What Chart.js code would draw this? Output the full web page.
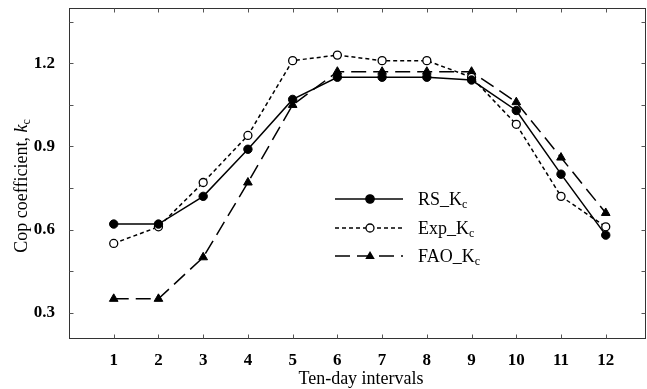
<!DOCTYPE html>
<html><head><meta charset="utf-8">
<script src="https://cdn.jsdelivr.net/npm/chart.js@4"></script>
<style>html,body{margin:0;padding:0;background:#fff}canvas{display:block}</style>
</head><body>
<canvas id="c" width="647" height="389"></canvas>
<script>
const intervals = [1,2,3,4,5,6,7,8,9,10,11,12];
const rsKc  = [0.62,0.62,0.72,0.89,1.07,1.15,1.15,1.15,1.14,1.03,0.80,0.58];
const expKc = [0.55,0.61,0.77,0.94,1.21,1.23,1.21,1.21,1.15,0.98,0.72,0.61];
const faoKc = [0.35,0.35,0.50,0.77,1.05,1.17,1.17,1.17,1.17,1.06,0.86,0.66];
const yTickLabels = [0.3,0.6,0.9,1.2];
const yMinorTicks = [0.3,0.45,0.6,0.75,0.9,1.05,1.2,1.35];
const seriesNames = ['RS_K','Exp_K','FAO_K'];
const seriesSub = ['c','c','c'];
const xTitle = 'Ten-day intervals';
const yTitleMain = 'Cop coefficient, ';
const yTitleItalic = 'k';
const yTitleSub = 'c';

const SERIF = '"Liberation Serif","Times New Roman",serif';
const pts = arr => intervals.map((x,i)=>({x:x,y:arr[i]}));

const dashes = [[], [4,3], [15,7]];
const styles = ['circle','circle','triangle'];
const fills = ['#000','#fff','#000'];
const radii = [4.2,4,5];
const PLOT_RIGHT = 646;

const fixArea = {
  id:'fixArea',
  afterLayout(chart){
    const xs = chart.scales.x;
    xs.right = PLOT_RIGHT; xs.width = PLOT_RIGHT - xs.left; xs.configure();
    chart.chartArea.right = PLOT_RIGHT; chart.chartArea.width = PLOT_RIGHT - chart.chartArea.left;
  }
};

const decor = {
  id:'decor',
  afterDraw(chart){
    const ctx = chart.ctx, a = chart.chartArea;
    const xs = chart.scales.x, ys = chart.scales.y;
    ctx.save();
    ctx.strokeStyle = '#333'; ctx.lineWidth = 1; ctx.setLineDash([]);
    const L = Math.round(a.left)+0.5, R = Math.round(a.right)-0.5, T = Math.round(a.top)+0.5, B = Math.round(a.bottom)-0.5;
    ctx.strokeRect(L, T, R-L, B-T);
    ctx.strokeStyle = '#555';
    ctx.beginPath();
    intervals.forEach(v=>{
      const px = Math.round(xs.getPixelForValue(v))+0.5;
      ctx.moveTo(px,B); ctx.lineTo(px,B-4);
      ctx.moveTo(px,T); ctx.lineTo(px,T+4);
    });
    yMinorTicks.forEach(v=>{
      const py = Math.round(ys.getPixelForValue(v))+0.5;
      ctx.moveTo(L,py); ctx.lineTo(L+4,py);
      ctx.moveTo(R,py); ctx.lineTo(R-4,py);
    });
    ctx.stroke();

    // legend
    const rows = [199, 228, 256];
    chart.data.datasets.forEach((ds,i)=>{
      const y = rows[i];
      ctx.save();
      ctx.strokeStyle = i===0 ? '#444' : '#000';
      ctx.lineWidth = i===0 ? 2 : 1.3;
      ctx.setLineDash(dashes[i]);
      ctx.beginPath(); ctx.moveTo(335,y); ctx.lineTo(403,y); ctx.stroke();
      ctx.restore();
      ctx.save();
      ctx.setLineDash([]);
      ctx.fillStyle = fills[i]; ctx.strokeStyle = '#000'; ctx.lineWidth = 1.3;
      if (styles[i]==='circle'){
        ctx.beginPath(); ctx.arc(370,y,radii[i],0,Math.PI*2); ctx.fill(); ctx.stroke();
      } else {
        const r = radii[i];
        ctx.beginPath(); ctx.moveTo(370,y-r); ctx.lineTo(370+r*0.95,y+r*0.6); ctx.lineTo(370-r*0.95,y+r*0.6); ctx.closePath(); ctx.fill();
      }
      ctx.restore();
      ctx.fillStyle = '#000';
      ctx.textBaseline = 'alphabetic'; ctx.textAlign = 'left';
      ctx.font = '18px '+SERIF;
      ctx.fillText(seriesNames[i], 418, y+6);
      const w = ctx.measureText(seriesNames[i]).width;
      ctx.font = '12px '+SERIF;
      ctx.fillText(seriesSub[i], 418+w, y+9);
    });

    // x title
    ctx.font = '18px '+SERIF; ctx.textAlign='center'; ctx.textBaseline='alphabetic';
    ctx.fillText(xTitle, 361, 384);

    // y title
    ctx.save();
    ctx.translate(27, 186);
    ctx.rotate(-Math.PI/2);
    ctx.font = '18px '+SERIF;
    const w1 = ctx.measureText(yTitleMain).width;
    ctx.font = 'italic 18px '+SERIF;
    const w2 = ctx.measureText(yTitleItalic).width;
    ctx.font = '12px '+SERIF;
    const w3 = ctx.measureText(yTitleSub).width;
    let x0 = -(w1+w2+w3)/2;
    ctx.textAlign='left';
    ctx.font = '18px '+SERIF; ctx.fillText(yTitleMain, x0, 0);
    ctx.font = 'italic 18px '+SERIF; ctx.fillText(yTitleItalic, x0+w1, 0);
    ctx.font = '12px '+SERIF; ctx.fillText(yTitleSub, x0+w1+w2, 3);
    ctx.restore();
    ctx.restore();
  }
};

new Chart(document.getElementById('c'), {
  type:'line',
  data:{
    datasets:[
      {label:'RS_Kc', data:pts(rsKc), borderColor:'#000', borderWidth:1.5, borderDash:dashes[0],
       pointStyle:'circle', pointRadius:radii[0], pointBackgroundColor:'#000', pointBorderColor:'#000', pointBorderWidth:1, tension:0},
      {label:'Exp_Kc', data:pts(expKc), borderColor:'#000', borderWidth:1.5, borderDash:dashes[1],
       pointStyle:'circle', pointRadius:radii[1], pointBackgroundColor:'#fff', pointBorderColor:'#000', pointBorderWidth:1.3, tension:0},
      {label:'FAO_Kc', data:pts(faoKc), borderColor:'#000', borderWidth:1.5, borderDash:dashes[2],
       pointStyle:'triangle', pointRadius:radii[2], pointBackgroundColor:'#000', pointBorderColor:'#000', pointBorderWidth:1, tension:0}
    ]
  },
  options:{
    responsive:false, animation:false, devicePixelRatio:1,
    layout:{padding:{left:0,right:2,top:8,bottom:0}},
    plugins:{legend:{display:false}, tooltip:{enabled:false}},
    scales:{
      x:{type:'linear', min:0, max:12.9,
         afterBuildTicks:s=>{s.ticks = intervals.map(v=>({value:v}));},
         afterFit:s=>{s.height=50; s.paddingLeft=0; s.paddingRight=0;},
         grid:{display:false}, border:{display:false},
         ticks:{color:'#000', padding:3, maxRotation:0, autoSkip:false, font:{family:SERIF, size:17, weight:'bold'}, callback:v=>String(v)}},
      y:{type:'linear', min:0.205, max:1.4,
         afterBuildTicks:s=>{s.ticks = yTickLabels.map(v=>({value:v}));},
         afterFit:s=>{s.width=69; s.paddingTop=0; s.paddingBottom=0;},
         grid:{display:false}, border:{display:false},
         ticks:{color:'#000', padding:6, font:{family:SERIF, size:17, weight:'bold'}, callback:v=>v.toFixed(1)}}
    }
  },
  plugins:[fixArea, decor]
});
</script>
</body></html>
